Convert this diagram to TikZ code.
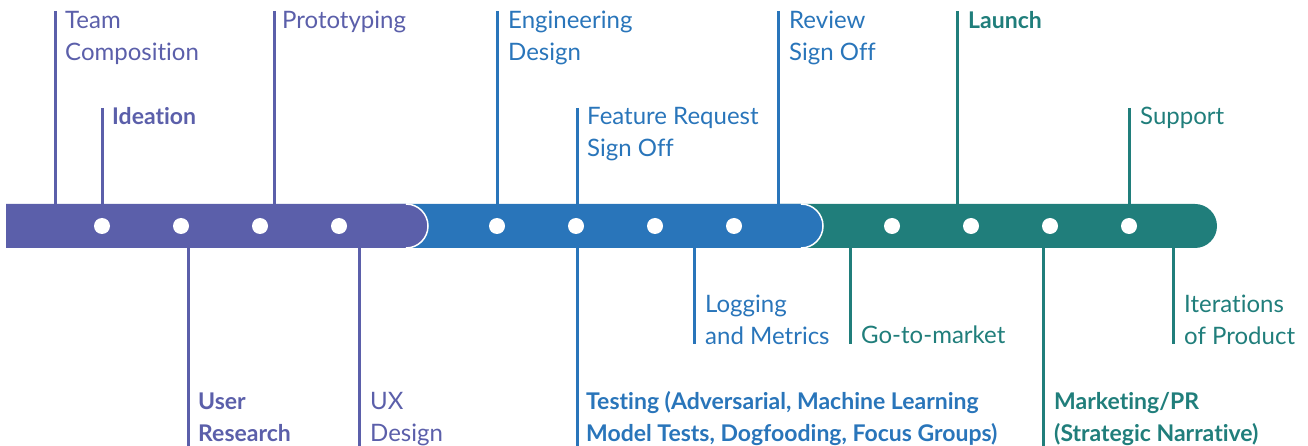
\documentclass[tikz,border=0pt]{standalone}
\usepackage{fontspec}
\setmainfont{Lato}[Ligatures=NoCommon]
\definecolor{phaseA}{HTML}{5B5FAA}
\definecolor{phaseB}{HTML}{2975BA}
\definecolor{phaseC}{HTML}{207E7B}
\tikzset{
  stem/.style={line width=3pt},
  lbl/.style={anchor=base west, inner sep=0pt, align=left, font=\fontsize{24}{32}\selectfont},
  keylbl/.style={lbl, font=\fontsize{23}{32}\selectfont\bfseries},
  dot/.style={circle, fill=white, inner sep=0pt, minimum size=16pt},
  rim/.style={white, line width=1.5pt},
}
\begin{document}
\begin{tikzpicture}[x=1pt,y=-1pt]
    \useasboundingbox (0,0) rectangle (1308,446);

    \fill[phaseC] (780,204) -- (1195,204) arc[start angle=-90,end angle=90,radius=22] -- (780,248) -- cycle;
    \fill[phaseB] (390,204) -- (801,204) arc[start angle=-90,end angle=90,radius=22] -- (390,248) -- cycle;
    \draw[rim] (801,204) arc[start angle=-90,end angle=90,radius=22];
    \fill[phaseA] (6,204) -- (406,204) arc[start angle=-90,end angle=90,radius=22] -- (6,248) -- cycle;
    \draw[rim] (406,204) arc[start angle=-90,end angle=90,radius=22];

    \foreach \x [count=\i] in {102,181,260,339,497,576,655,734,892,971,1050,1129}
        \node[dot] (D\i) at (\x,226) {};

    \coordinate (TeamT) at (55,11);     \coordinate (TeamB) at (55,204);
    \coordinate (IdeaT) at (102,108);   \coordinate (IdeaB) at (102,204);
    \coordinate (ProtoT) at (274,11);   \coordinate (ProtoB) at (274,204);
    \coordinate (UserT) at (188,248);   \coordinate (UserB) at (188,446);
    \coordinate (UxT) at (359,248);     \coordinate (UxB) at (359,446);
    \draw[stem,phaseA] (TeamT) -- (TeamB);
    \draw[stem,phaseA] (IdeaT) -- (IdeaB);
    \draw[stem,phaseA] (ProtoT) -- (ProtoB);
    \draw[stem,phaseA] (UserT) -- (UserB);
    \draw[stem,phaseA] (UxT) -- (UxB);
    \node[lbl,phaseA] (Team) at (65,60.5) {Team\\Composition};
    \node[keylbl,phaseA] (Idea) at (112,124.5) {Ideation};
    \node[lbl,phaseA] (Proto) at (282,28.5) {Prototyping};
    \node[keylbl,phaseA] (User) at (198,441.5) {User\\Research};
    \node[lbl,phaseA] (Ux) at (370,441.5) {UX\\Design};

    \coordinate (EngT) at (497,11);     \coordinate (EngB) at (497,204);
    \coordinate (FeatT) at (577,108);   \coordinate (FeatB) at (577,204);
    \coordinate (RevT) at (778,11);     \coordinate (RevB) at (778,204);
    \coordinate (TestT) at (577,248);   \coordinate (TestB) at (577,446);
    \coordinate (LogT) at (694,248);    \coordinate (LogB) at (694,344);
    \draw[stem,phaseB] (EngT) -- (EngB);
    \draw[stem,phaseB] (FeatT) -- (FeatB);
    \draw[stem,phaseB] (RevT) -- (RevB);
    \draw[stem,phaseB] (TestT) -- (TestB);
    \draw[stem,phaseB] (LogT) -- (LogB);
    \node[lbl,phaseB] (Eng) at (508,60.5) {Engineering\\Design};
    \node[lbl,phaseB] (Feat) at (587,156.5) {Feature Request\\Sign Off};
    \node[lbl,phaseB] (Rev) at (789,60.5) {Review\\Sign Off};
    \node[keylbl,phaseB] (Test) at (586,441.5) {Testing (Adversarial, Machine Learning\\Model Tests, Dogfooding, Focus Groups)};
    \node[lbl,phaseB] (Log) at (705,344) {Logging\\and Metrics};

    \coordinate (LaunchT) at (957,11);  \coordinate (LaunchB) at (957,204);
    \coordinate (SuppT) at (1129,108);  \coordinate (SuppB) at (1129,204);
    \coordinate (GoT) at (850,248);     \coordinate (GoB) at (850,344);
    \coordinate (MarkT) at (1043,248);  \coordinate (MarkB) at (1043,446);
    \coordinate (IterT) at (1173,248);  \coordinate (IterB) at (1173,344);
    \draw[stem,phaseC] (LaunchT) -- (LaunchB);
    \draw[stem,phaseC] (SuppT) -- (SuppB);
    \draw[stem,phaseC] (GoT) -- (GoB);
    \draw[stem,phaseC] (MarkT) -- (MarkB);
    \draw[stem,phaseC] (IterT) -- (IterB);
    \node[keylbl,phaseC] (Launch) at (968,28.5) {Launch};
    \node[lbl,phaseC] (Supp) at (1140,124.5) {Support};
    \node[lbl,phaseC] (Go) at (861,343) {Go-to-market};
    \node[keylbl,phaseC] (Mark) at (1054,441.5) {Marketing/PR\\(Strategic Narrative)};
    \node[lbl,phaseC] (Iter) at (1184,344) {Iterations\\of Product};
\end{tikzpicture}
\end{document}
